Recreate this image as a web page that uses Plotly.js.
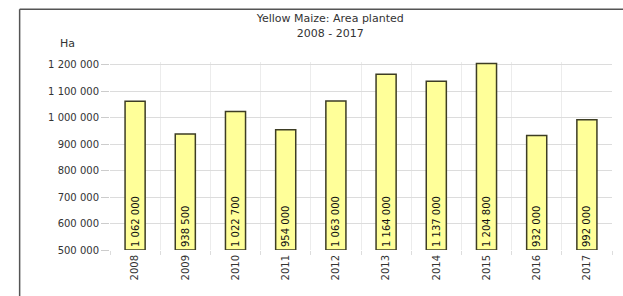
<!DOCTYPE html>
<html>
<head>
<meta charset="utf-8">
<script src="https://cdn.plot.ly/plotly-3.0.1.min.js"></script>
<style>html,body{margin:0;padding:0;background:#fff;}#chart{width:623px;height:296px;}</style>
</head>
<body>
<div id="chart"></div>
<script>
var years = ["2008","2009","2010","2011","2012","2013","2014","2015","2016","2017"];
var areaPlanted = [1062000, 938500, 1022700, 954000, 1063000, 1164000, 1137000, 1204800, 932000, 992000];
var yTicks = [500000, 600000, 700000, 800000, 900000, 1000000, 1100000, 1200000];
var axisFloor = 500000;

function fmt(v) { return String(v).replace(/\B(?=(\d{3})+(?!\d))/g, " "); }

var trace = {
  type: "bar",
  x: years,
  base: axisFloor,
  y: areaPlanted.map(function (v) { return v - axisFloor; }),
  width: 0.4,
  marker: {color: "#ffff99", line: {color: "#3d3d24", width: 1.5}},
  text: areaPlanted.map(fmt),
  textposition: "inside",
  insidetextanchor: "start",
  textangle: -90,
  textfont: {family: "DejaVu Sans", size: 10, color: "#111"},
  constraintext: "none",
  hoverinfo: "none"
};

var layout = {
  width: 623, height: 296,
  margin: {l: 110, r: 11, t: 62, b: 46},
  paper_bgcolor: "#fff", plot_bgcolor: "#fff",
  separators: ". ",
  showlegend: false,
  title: {text: "Yellow Maize: Area planted<br>2008 - 2017", x: 0.53, xanchor: "center", y: 0.925, yanchor: "top",
          font: {family: "DejaVu Sans", size: 11, color: "#333"}},
  xaxis: {type: "category", tickangle: -90, tickson: "boundaries", showgrid: true, gridcolor: "#ececec",
          ticks: "outside", ticklen: 4, tickcolor: "#ddd", ticklabelstandoff: 2,
          tickfont: {family: "DejaVu Sans", size: 10, color: "#333"}, showline: false, zeroline: false},
  yaxis: {range: [500000, 1210000], tickvals: yTicks, tickformat: ",.0f", showgrid: true, gridcolor: "#dcdcdc",
          ticks: "outside", ticklen: 8, tickcolor: "#ccc", zeroline: false, showline: false,
          tickfont: {family: "DejaVu Sans", size: 10, color: "#333"}},
  annotations: [{text: "Ha", xref: "paper", yref: "paper", x: -0.085, y: 1.1, xanchor: "center", yanchor: "middle",
                 showarrow: false, font: {family: "DejaVu Sans", size: 11, color: "#333"}}],
  shapes: [
    {type: "line", xref: "paper", yref: "paper", x0: -0.18, x1: 1.03, y0: 1.28, y1: 1.28, line: {color: "#555", width: 1.5}},
    {type: "line", xref: "paper", yref: "paper", x0: -0.18, x1: -0.18, y0: 1.28, y1: -0.3, line: {color: "#555", width: 1.5}}
  ]
};

Plotly.newPlot("chart", [trace], layout, {displayModeBar: false, staticPlot: true});
</script>
</body>
</html>
